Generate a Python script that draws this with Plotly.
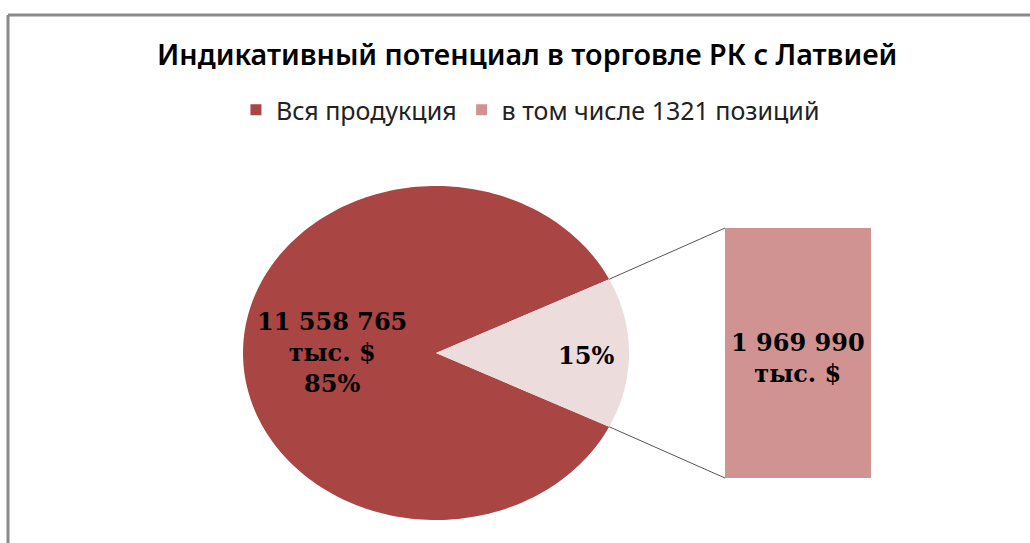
import numpy as np
import plotly.graph_objects as go

# ---- data ----
categories = ["Вся продукция", "в том числе 1321 позиций"]
values = [11558765, 1969990]          # тыс. $
value_labels = ["11 558 765<br>тыс. $", "1 969 990<br>тыс. $"]
title = "Индикативный потенциал в торговле РК с Латвией"

# ---- style / layout ----
W, H = 1030, 543
C_DARK = "#A94643"
C_LIGHT = "#EDDCDC"
C_BAR = "#D19392"
CX, CY, RX, RY = 436, 353, 193, 167      # pie ellipse in pixel frame
BAR_X0, BAR_X1, BAR_Y0, BAR_Y1 = 725, 871, 228, 478
LABEL_FONT = dict(family="DejaVu Serif", size=24, color="black", weight="bold")
TEXT_FAMILY = "Noto Sans"

total = sum(values)
shares = [v / total for v in values]
small_ang = shares[1] * 2 * np.pi
a0, a1 = -small_ang / 2, small_ang / 2   # secondary slice centred to the right


def wedge(t0, t1, n=200):
    t = np.linspace(t0, t1, n)
    xs = np.concatenate([[CX], CX + RX * np.cos(t), [CX]])
    ys = np.concatenate([[CY], CY - RY * np.sin(t), [CY]])
    return xs, ys


fig = go.Figure()

xs, ys = wedge(a1, 2 * np.pi + a0)
fig.add_trace(go.Scatter(x=xs, y=ys, fill="toself", fillcolor=C_DARK, mode="none",
                         showlegend=False, hoverinfo="skip"))
xs, ys = wedge(a0, a1)
fig.add_trace(go.Scatter(x=xs, y=ys, fill="toself", fillcolor=C_LIGHT, mode="none",
                         showlegend=False, hoverinfo="skip"))

# connector lines from slice edges to bar corners
for ang, by in [(a1, BAR_Y0), (a0, BAR_Y1)]:
    fig.add_trace(go.Scatter(x=[CX + RX * np.cos(ang), BAR_X0],
                             y=[CY - RY * np.sin(ang), by],
                             mode="lines", line=dict(color="#555555", width=1),
                             showlegend=False, hoverinfo="skip"))

# secondary bar
fig.add_trace(go.Bar(x=[0], y=[values[1]], width=1, marker=dict(color=C_BAR, line=dict(width=0)),
                     xaxis="x2", yaxis="y2", showlegend=False, hoverinfo="skip"))

# legend entries
for name, col in zip(categories, [C_DARK, C_BAR]):
    fig.add_trace(go.Scatter(x=[None], y=[None], mode="markers", name=name,
                             marker=dict(symbol="square", size=11, color=col)))

# data labels
fig.add_annotation(x=332, y=352, xref="x", yref="y",
                   text=f"{value_labels[0]}<br>{shares[0]*100:.0f}%",
                   showarrow=False, font=LABEL_FONT, align="center")
fig.add_annotation(x=586, y=355, xref="x", yref="y",
                   text=f"{shares[1]*100:.0f}%", showarrow=False, font=LABEL_FONT)
fig.add_annotation(x=0, y=values[1] * 0.48, xref="x2", yref="y2",
                   text=value_labels[1], showarrow=False, font=LABEL_FONT, align="center")

# title
fig.add_annotation(x=527, y=53, xref="x", yref="y", text=title, showarrow=False,
                   font=dict(family=TEXT_FAMILY, size=28.7, color="black", weight=600))

# frame
fig.add_shape(type="line", x0=8, x1=W, y0=15, y1=15, xref="x", yref="y",
              line=dict(color="#8a8a8a", width=3), layer="above")
fig.add_shape(type="line", x0=8, x1=8, y0=15, y1=H, xref="x", yref="y",
              line=dict(color="#8a8a8a", width=3), layer="above")

noaxis = dict(visible=False, showgrid=False, zeroline=False, fixedrange=True)
fig.update_layout(
    width=W, height=H, margin=dict(l=0, r=0, t=0, b=0),
    paper_bgcolor="white", plot_bgcolor="white",
    xaxis=dict(range=[0, W], domain=[0, 1], **noaxis),
    yaxis=dict(range=[H, 0], domain=[0, 1], **noaxis),
    xaxis2=dict(range=[-0.5, 0.5], domain=[BAR_X0 / W, BAR_X1 / W], anchor="y2", **noaxis),
    yaxis2=dict(range=[0, values[1]], domain=[(H - BAR_Y1) / H, (H - BAR_Y0) / H], anchor="x2", **noaxis),
    legend=dict(orientation="h", x=0.515, xanchor="center", y=1 - 110 / H, yanchor="middle",
                font=dict(family=TEXT_FAMILY, size=25, color="#222222"),
                itemwidth=30, bgcolor="rgba(0,0,0,0)"),
    showlegend=True,
)

fig.write_html("out.html")
